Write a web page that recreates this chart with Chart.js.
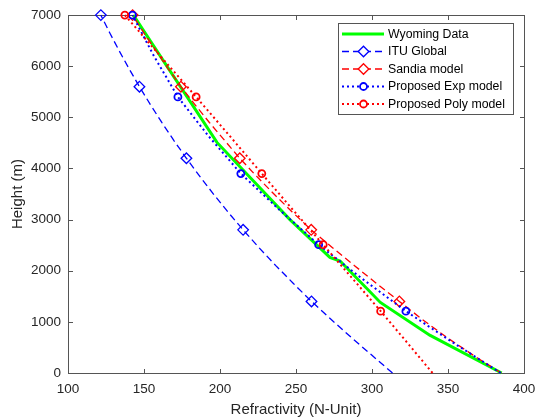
<!DOCTYPE html>
<html><head><meta charset="utf-8">
<script src="https://cdn.jsdelivr.net/npm/chart.js@4/dist/chart.umd.min.js"></script>
<style>html,body{margin:0;padding:0;background:#fff;}#wrap{width:544px;height:419px;}</style>
</head><body><div id="wrap"><canvas id="c" width="544" height="419"></canvas></div>
<script>
// ---- data ----
const xTicks = [100, 150, 200, 250, 300, 350, 400];
const yTicks = [0, 1000, 2000, 3000, 4000, 5000, 6000, 7000];

const wyomingHeight = [0, 740, 1380, 2190, 2260, 3000, 4510, 7000];
const wyomingN      = [385.3, 338, 305.5, 279, 272.3, 246, 198, 143];

const gridHeight = [0, 350, 700, 1050, 1400, 1750, 2100, 2450, 2800, 3150, 3500,
                    3850, 4200, 4550, 4900, 5250, 5600, 5950, 6300, 6650, 7000];
const ituN    = [313.5, 299.8, 286.2, 273, 260.2, 248.3, 236.7, 225.7, 215.2, 205.2, 195.7,
                 186.6, 177.9, 169.6, 161.7, 154.2, 147.0, 140.2, 133.7, 127.5, 121.6];
const sandiaN = [385, 366.5, 349, 333, 318, 303, 288.5, 274, 260, 247.5, 235.5,
                 224, 213, 203, 193, 183.5, 174.3, 166, 158, 150, 142.5];
const gridMarkerIdx = [4, 8, 12, 16, 20];

const modelHeight = [0, 610, 1210, 1860, 2510, 3200, 3900, 4650, 5400, 6200, 7000];
const expN  = [384.7, 352.5, 322.3, 292.8, 264.9, 238.8, 213.7, 192, 172.3, 156.5, 142.4];
const polyN = [339.8, 322.7, 305.7, 286.8, 267.9, 247.7, 227.5, 206, 184.3, 160.7, 137.4];
const modelMarkerIdx = [2, 4, 6, 8, 10];

const labels = ['Wyoming Data', 'ITU Global', 'Sandia model', 'Proposed Exp model', 'Proposed Poly model'];

// ---- helpers ----
const pts = (xs, hs) => hs.map((h, i) => ({x: xs[i], y: h}));
const mk = (idx, r) => ctx => idx.includes(ctx.dataIndex) ? r : 0;
const FONT = "'Liberation Sans', Arial, sans-serif";

const datasets = [
  {label: labels[0], data: pts(wyomingN, wyomingHeight), borderColor: '#00ff00', borderWidth: 3,
   pointRadius: 0, order: 5, legendMarker: null},
  {label: labels[1], data: pts(ituN, gridHeight), borderColor: '#0000ff', borderWidth: 1.3,
   borderDash: [7, 4], pointStyle: 'rectRot', pointRadius: mk(gridMarkerIdx, 5.3),
   pointBorderColor: '#0000ff', pointBackgroundColor: 'rgba(0,0,0,0)', pointBorderWidth: 1.3,
   order: 4, legendMarker: 'rectRot'},
  {label: labels[2], data: pts(sandiaN, gridHeight), borderColor: '#ff0000', borderWidth: 1.3,
   borderDash: [7, 4], pointStyle: 'rectRot', pointRadius: mk(gridMarkerIdx, 5.3),
   pointBorderColor: '#ff0000', pointBackgroundColor: 'rgba(0,0,0,0)', pointBorderWidth: 1.3,
   order: 3, legendMarker: 'rectRot'},
  {label: labels[3], data: pts(expN, modelHeight), borderColor: '#0000ff', borderWidth: 2,
   borderDash: [2, 3], pointStyle: 'circle', pointRadius: mk(modelMarkerIdx, 3.5),
   pointBorderColor: '#0000ff', pointBackgroundColor: 'rgba(0,0,0,0)', pointBorderWidth: 1.8,
   order: 2, legendMarker: 'circle'},
  {label: labels[4], data: pts(polyN, modelHeight), borderColor: '#ff0000', borderWidth: 2,
   borderDash: [2, 3], pointStyle: 'circle', pointRadius: mk(modelMarkerIdx, 3.5),
   pointBorderColor: '#ff0000', pointBackgroundColor: 'rgba(0,0,0,0)', pointBorderWidth: 1.8,
   order: 1, legendMarker: 'circle'}
];
datasets.forEach(d => { d.showLine = true; d.tension = 0; d.clip = false; d.fill = false; d.pointHoverRadius = 0; });

// box + inward ticks
const boxPlugin = {
  id: 'box',
  beforeDatasetsDraw(chart) {
    const {ctx, chartArea: a, scales} = chart;
    const L = Math.round(a.left) + 0.5, R = Math.round(a.right) + 0.5;
    const T = Math.round(a.top) + 0.5, B = Math.round(a.bottom) + 0.5;
    ctx.save();
    ctx.strokeStyle = '#555';
    ctx.lineWidth = 1;
    ctx.strokeRect(L, T, R - L, B - T);
    const tl = 4.5;
    ctx.beginPath();
    xTicks.forEach(v => {
      const p = Math.round(scales.x.getPixelForValue(v)) + 0.5;
      ctx.moveTo(p, B); ctx.lineTo(p, B - tl);
      ctx.moveTo(p, T); ctx.lineTo(p, T + tl);
    });
    yTicks.forEach(v => {
      const p = Math.round(scales.y.getPixelForValue(v)) + 0.5;
      ctx.moveTo(L, p); ctx.lineTo(L + tl, p);
      ctx.moveTo(R, p); ctx.lineTo(R - tl, p);
    });
    ctx.stroke();
    ctx.restore();
  }
};

// in-axes legend
const legendPlugin = {
  id: 'inlegend',
  afterDraw(chart) {
    const {ctx} = chart;
    const x0 = 338, y0 = 23, w = 175, h = 91;
    ctx.save();
    ctx.fillStyle = '#fff';
    ctx.fillRect(x0, y0, w, h);
    ctx.strokeStyle = '#555';
    ctx.lineWidth = 1;
    ctx.strokeRect(x0 + 0.5, y0 + 0.5, w, h);
    const rowY = [34, 51.5, 69, 86.5, 104];
    ctx.font = '12.3px ' + FONT;
    ctx.textBaseline = 'middle';
    ctx.textAlign = 'left';
    datasets.forEach((d, i) => {
      const y = rowY[i];
      ctx.save();
      ctx.strokeStyle = d.borderColor;
      ctx.lineWidth = d.borderWidth;
      ctx.setLineDash(d.borderDash || []);
      ctx.beginPath();
      ctx.moveTo(342, y); ctx.lineTo(384, y);
      ctx.stroke();
      ctx.restore();
      if (d.legendMarker) {
        ctx.save();
        ctx.fillStyle = '#fff';
        ctx.strokeStyle = d.pointBorderColor;
        ctx.lineWidth = d.pointBorderWidth;
        ctx.setLineDash([]);
        const r = d.legendMarker === 'circle' ? 3.5 : 5.3;
        Chart.helpers.drawPoint(ctx, {pointStyle: d.legendMarker, radius: r, rotation: 0, borderWidth: d.pointBorderWidth}, 363.5, y);
        ctx.restore();
      }
      ctx.fillStyle = '#000';
      ctx.fillText(d.label, 388, y + 0.5);
    });
    ctx.restore();
  }
};

new Chart(document.getElementById('c'), {
  type: 'scatter',
  data: {datasets},
  options: {
    responsive: false,
    animation: false,
    devicePixelRatio: 1,
    layout: {padding: {top: 11, right: 20, left: 0, bottom: 0}},
    plugins: {legend: {display: false}, tooltip: {enabled: false}},
    events: [],
    scales: {
      x: {
        type: 'linear', min: 100, max: 400,
        afterBuildTicks: s => { s.ticks = xTicks.map(v => ({value: v})); },
        afterFit: s => { s.height = 46; },
        grid: {display: false, drawTicks: false},
        border: {display: false},
        ticks: {color: '#262626', font: {family: FONT, size: 13.5}, padding: 8, maxRotation: 0,
                callback: v => String(v)},
        title: {display: true, text: 'Refractivity (N-Unit)', color: '#262626',
                font: {family: FONT, size: 15}, padding: {top: 2, bottom: 0}}
      },
      y: {
        type: 'linear', min: 0, max: 7000,
        afterBuildTicks: s => { s.ticks = yTicks.map(v => ({value: v})); },
        afterFit: s => { s.width = 68; },
        grid: {display: false, drawTicks: false},
        border: {display: false},
        ticks: {color: '#262626', font: {family: FONT, size: 13.5}, padding: 7,
                callback: v => String(v)},
        title: {display: true, text: 'Height (m)', color: '#262626',
                font: {family: FONT, size: 15}, padding: {top: 9, bottom: 0}}
      }
    }
  },
  plugins: [boxPlugin, legendPlugin]
});
</script></body></html>
